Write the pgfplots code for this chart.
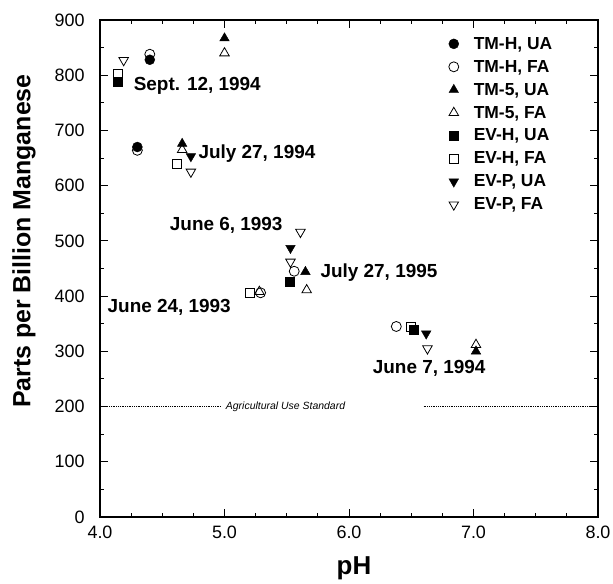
\documentclass[border=0pt]{standalone}
\usepackage{pgfplots}
\pgfplotsset{compat=1.18}
\usepackage{fontspec}
\setmainfont{Liberation Sans}
\begin{document}
\begin{tikzpicture}
\begin{axis}[name=ax, scale only axis, width=498bp, height=497bp,
  xmin=4, xmax=8, ymin=0, ymax=900,
  xtick={4,5,6,7,8}, minor x tick num=3,
  ytick={0,100,...,900}, minor y tick num=1,
  tick align=inside, major tick length=8bp, minor tick length=4bp,
  axis line style={line width=1.1pt}, every tick/.style={black, line width=0.9pt},
  /pgf/number format/assume math mode=true,
  xticklabel={\pgfmathprintnumber[fixed,fixed zerofill,precision=1]{\tick}},
  yticklabel={\pgfmathprintnumber[fixed,precision=0]{\tick}},
  tick label style={font=\fontsize{18}{20}\selectfont},
  xticklabel style={yshift=-5bp},
  yticklabel style={xshift=-12bp},
  xlabel={pH}, ylabel={Parts per Billion Manganese},
  every axis x label/.style={at={(axis description cs:0.51,0)}, yshift=-51bp, anchor=center, font=\bfseries\fontsize{26}{28}\selectfont},
  every axis y label/.style={at={(axis description cs:0,0.555)}, xshift=-76bp, rotate=90, anchor=center, font=\bfseries\fontsize{25}{27}\selectfont},
  legend style={at={(rel axis cs:0.694,0.974)}, anchor=north west, draw=none, fill=none,
    font=\bfseries\fontsize{17.5}{19}\selectfont, row sep=5.5bp,
    /tikz/every odd column/.append style={column sep=13bp}},
  legend cell align=left,
  clip=false,
]
\addplot[only marks, mark=*, mark size=5bp, black] coordinates {(4.40,828) (4.30,670)};
\addlegendentry{TM-H, UA}
\addplot[only marks, mark=o, mark size=5bp, black, thick] coordinates {(4.40,838) (4.30,664) (5.29,406) (5.56,445) (6.38,345)};
\addlegendentry{TM-H, FA}
\addplot[only marks, mark=triangle*, mark size=5.5bp, black] coordinates {(5.00,867) (4.66,676) (5.65,444) (7.02,300)};
\addlegendentry{TM-5, UA}
\addplot[only marks, mark=triangle, mark size=5.5bp, black, thick] coordinates {(5.00,840) (4.66,665) (5.28,408) (5.66,411) (7.02,312)};
\addlegendentry{TM-5, FA}
\addplot[only marks, mark=square*, mark size=4.5bp, black] coordinates {(4.14,788) (5.52,426) (6.52,340)};
\addlegendentry{EV-H, UA}
\addplot[only marks, mark=square, mark size=4.5bp, black, thick] coordinates {(4.14,803) (4.62,640) (5.20,405) (6.50,345)};
\addlegendentry{EV-H, FA}
\addplot[only marks, mark=triangle*, mark size=5.5bp, mark options={rotate=180}, black] coordinates {(4.73,653) (5.53,487) (6.62,332)};
\addlegendentry{EV-P, UA}
\addplot[only marks, mark=triangle, mark size=5.5bp, mark options={rotate=180}, black, thick] coordinates {(4.19,827) (4.73,625) (5.61,516) (5.53,462) (6.63,305)};
\addlegendentry{EV-P, FA}
% agricultural use standard
\addplot[black, densely dotted, line width=0.8pt, forget plot] coordinates {(4.0,200) (4.97,200)};
\addplot[black, densely dotted, line width=0.8pt, forget plot] coordinates {(6.6,200) (8.0,200)};
\node[anchor=west, inner sep=0pt, font=\itshape\fontsize{10.5}{12}\selectfont] at (axis cs:5.01,200) {Agricultural Use Standard};
% date annotations
\begin{scope}[every node/.style={anchor=west, inner sep=0pt, font=\bfseries\fontsize{19}{21}\selectfont}]
\node at (axis cs:4.27,781) {Sept. 12, 1994};
\node at (axis cs:4.79,658) {July 27, 1994};
\node at (axis cs:4.56,529) {June 6, 1993};
\node at (axis cs:4.06,379) {June 24, 1993};
\node at (axis cs:5.77,442) {July 27, 1995};
\node at (axis cs:6.19,270) {June 7, 1994};
\end{scope}
\end{axis}
\pgfresetboundingbox
\path[use as bounding box] ([shift={(-100bp,-67bp)}]ax.south west) rectangle ([shift={(15bp,20bp)}]ax.north east);
\end{tikzpicture}
\end{document}
